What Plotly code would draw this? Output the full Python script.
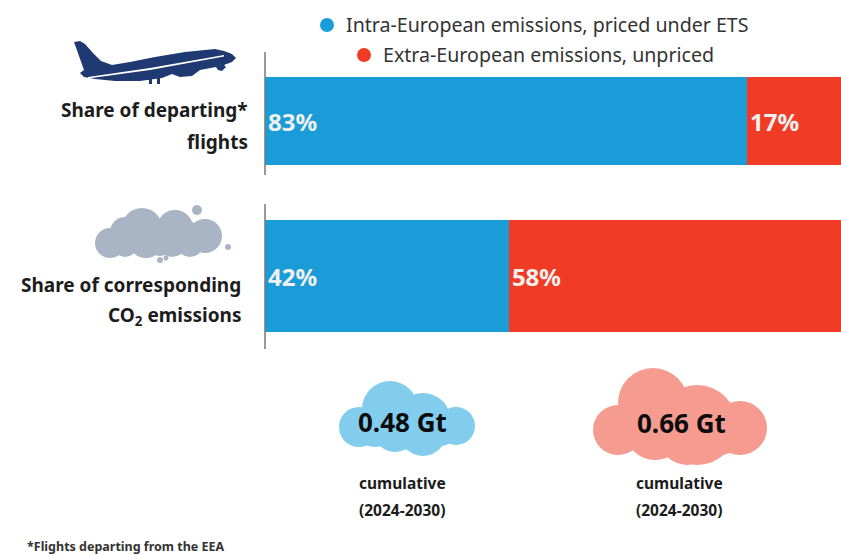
import numpy as np
import plotly.graph_objects as go

W, H = 841, 555
categories = ["Share of departing flights", "Share of corresponding CO2 emissions"]
intra_share = [83, 42]
extra_share = [17, 58]
series_names = ["Intra-European emissions, priced under ETS", "Extra-European emissions, unpriced"]
totals = ["0.48 Gt", "0.66 Gt"]

BLUE, RED = "#1a9cd9", "#f03c24"
FONT = "Noto Sans"
INK = "#1c1c1c"

px = lambda x: x / W
py = lambda y: 1 - y / H

fig = go.Figure()
centers = [121, 276]
widths = [88, 112]
for vals, col, name in [(intra_share, BLUE, series_names[0]), (extra_share, RED, series_names[1])]:
    fig.add_trace(go.Bar(
        y=centers, x=vals, width=widths, orientation="h", name=name, customdata=categories,
        marker=dict(color=col, line_width=0),
        text=[f"{v}%" for v in vals], textposition="inside", insidetextanchor="start",
        textangle=0, constraintext="none",
        textfont=dict(family=FONT, size=24, color="#f0f0f0", weight=700),
        showlegend=False,
    ))

shapes = []
def poly(pts, color):
    d = "M " + " L ".join(f"{px(x):.5f},{py(y):.5f}" for x, y in pts) + " Z"
    shapes.append(dict(type="path", xref="paper", yref="paper", path=d, fillcolor=color, line_width=0, layer="above"))

def circle(cx, cy, r, color):
    shapes.append(dict(type="circle", xref="paper", yref="paper", x0=px(cx - r), x1=px(cx + r),
                       y0=py(cy + r), y1=py(cy - r), fillcolor=color, line_width=0, layer="above"))

def vline(x, y0, y1):
    shapes.append(dict(type="line", xref="paper", yref="paper", x0=px(x), x1=px(x), y0=py(y0), y1=py(y1),
                       line=dict(color="#777777", width=1.5), layer="above"))

vline(265, 52, 175)
vline(265, 204, 349)

# plane
NAVY = "#1f3a73"
poly([(74, 42), (80, 41), (85, 44), (93, 53), (101, 61), (112, 65), (130, 62), (155, 57), (185, 52), (215, 49),
      (224, 51), (232, 54), (236, 58), (232, 62), (224, 65), (226, 67), (222, 71), (218, 70), (216, 67), (200, 70),
      (192, 76), (180, 77), (172, 74), (162, 78), (140, 81), (115, 81), (95, 79), (84, 77), (80, 73), (84, 70)], NAVY)
poly([(149, 78), (152, 78), (152, 84), (149, 84)], NAVY)
poly([(157, 78), (160, 78), (160, 84), (157, 84)], NAVY)
poly([(88, 77), (150, 68), (224, 55), (224, 56.5), (150, 70), (88, 78.5)], "#ffffff")

# grey cloud
GREY = "#a9b4c4"
for c in [(110, 243, 15), (125, 232, 15), (142, 228, 20), (146, 240, 18), (175, 228, 18), (172, 243, 14),
          (205, 236, 17), (190, 244, 13), (160, 238, 16), (125, 245, 12), (205, 243, 10), (160, 245, 11),
          (185, 235, 15), (197, 210, 5), (228, 247, 3), (160, 260, 3), (166, 258, 2.5)]:
    circle(*c, GREY)

# blue cloud
for c in [(359, 427, 20), (456, 426, 19), (390, 409, 28), (423, 421, 28), (423, 433, 23), (395, 430, 22),
          (440, 428, 18), (375, 425, 22), (410, 425, 25)]:
    circle(*c, "#82cdee")
# pink cloud
for c in [(618, 430, 25), (740, 428, 27), (653, 403, 35), (697, 425, 40), (687, 437, 28), (655, 430, 30),
          (720, 430, 25)]:
    circle(*c, "#f59b90")

# legend dots
circle(327, 25, 7, BLUE)
circle(364, 55, 7, RED)

ann = []
def text(x, y, s, size, anchor="center", bold=False, color=INK):
    ann.append(dict(x=px(x), y=py(y), xref="paper", yref="paper", text=s, showarrow=False,
                    xanchor=anchor, yanchor="middle", align=anchor,
                    font=dict(family=FONT, size=size, color=color, weight=700 if bold else 400)))

text(344, 25, series_names[0], 19.6, "left", color="#333333")
text(381, 54, series_names[1], 19.6, "left", color="#333333")
text(250, 110, "Share of departing*", 19, "right", True)
text(250, 142, "flights", 19, "right", True)
text(243, 285, "Share of corresponding", 19, "right", True)
text(243, 316, "CO<sub>2</sub> emissions", 19, "right", True)
text(402, 422, totals[0], 26, "center", True, "#0c0c0c")
text(681, 423, totals[1], 26, "center", True, "#0c0c0c")
for cx in (402, 679):
    text(cx, 483, "cumulative", 15.5, "center", True)
    text(cx, 510, "(2024-2030)", 15.5, "center", True)
text(25, 546, "*Flights departing from the EEA", 12.5, "left", True, "#333333")

fig.update_layout(
    width=W, height=H, margin=dict(l=0, r=0, t=0, b=0), barmode="stack",
    paper_bgcolor="white", plot_bgcolor="white", showlegend=False,
    xaxis=dict(domain=[265 / W, 1], range=[0, 99.2], visible=False),
    yaxis=dict(domain=[0, 1], range=[H, 0], visible=False),
    shapes=shapes, annotations=ann, font=dict(family=FONT),
)
fig.write_html("out.html", config={"displayModeBar": False},
               post_script="document.body.style.margin='0';")
